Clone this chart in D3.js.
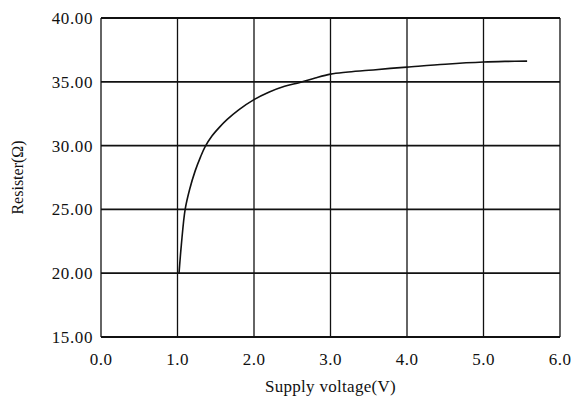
<!DOCTYPE html>
<html>
<head>
<meta charset="utf-8">
<script src="https://cdn.jsdelivr.net/npm/d3@7"></script>
<style>
  body { margin: 0; background: #fff; }
  svg text { font-family: "Liberation Serif", "DejaVu Serif", serif; fill: #111; }
</style>
</head>
<body>
<svg id="chart-svg" width="576" height="399"></svg>
<script>
// supply voltage (V)
var voltage = [1.02, 1.05, 1.10, 1.16, 1.23, 1.30, 1.36, 1.45, 1.55, 1.65, 1.8, 2.0, 2.2, 2.4, 2.6, 2.8, 3.0, 3.2, 3.5, 3.78, 4.0, 4.5, 5.0, 5.3, 5.57];
// resistance (ohm)
var resist = [20.0, 22.2, 25.0, 26.6, 28.0, 29.1, 29.9, 30.75, 31.45, 32.05, 32.8, 33.6, 34.2, 34.65, 34.95, 35.3, 35.6, 35.75, 35.9, 36.05, 36.15, 36.38, 36.55, 36.6, 36.62];

var xTicks = [0, 1, 2, 3, 4, 5, 6];
var yTicks = [15, 20, 25, 30, 35, 40];

var svg = d3.select("#chart-svg");

var plotL = 101, plotR = 560, plotT = 18, plotB = 337;

var x = d3.scaleLinear().domain([0, 6]).range([plotL, plotR]);
var y = d3.scaleLinear().domain([15, 40]).range([plotB, plotT]);

var data = voltage.map((v, i) => ({v: v, r: resist[i]}));

// grid
svg.selectAll(".vgrid")
    .data(xTicks)
    .enter()
    .append("line")
    .attr("class", "vgrid")
    .attr("x1", d => x(d)).attr("x2", d => x(d))
    .attr("y1", plotT).attr("y2", plotB)
    .attr("stroke", "#111")
    .attr("stroke-width", 1.3);

svg.selectAll(".hgrid")
    .data(yTicks)
    .enter()
    .append("line")
    .attr("class", "hgrid")
    .attr("x1", plotL).attr("x2", plotR)
    .attr("y1", d => y(d)).attr("y2", d => y(d))
    .attr("stroke", "#111")
    .attr("stroke-width", 1.8);

// tick labels
svg.selectAll(".ylab")
    .data(yTicks)
    .enter()
    .append("text")
    .attr("class", "ylab")
    .attr("x", 93)
    .attr("y", d => y(d) + 6)
    .attr("text-anchor", "end")
    .style("font-size", "17px")
    .style("letter-spacing", "0.6px")
    .text(d => d.toFixed(2));

svg.selectAll(".xlab")
    .data(xTicks)
    .enter()
    .append("text")
    .attr("class", "xlab")
    .attr("x", d => x(d))
    .attr("y", 365)
    .attr("text-anchor", "middle")
    .style("font-size", "17px")
    .style("letter-spacing", "0.5px")
    .text(d => d.toFixed(1));

// axis titles
svg.append("text")
    .attr("x", (plotL + plotR) / 2)
    .attr("y", 392)
    .attr("text-anchor", "middle")
    .style("font-size", "17px")
    .style("letter-spacing", "0.3px")
    .text("Supply voltage(V)");

svg.append("text")
    .attr("transform", "translate(23," + ((plotT + plotB) / 2) + ") rotate(-90)")
    .attr("text-anchor", "middle")
    .style("font-size", "16px")
    .text("Resister(Ω)");

// curve
var line = d3.line()
    .x(d => x(d.v))
    .y(d => y(d.r))
    .curve(d3.curveCatmullRom.alpha(0.5));

svg.append("path")
    .datum(data)
    .attr("d", line)
    .attr("fill", "none")
    .attr("stroke", "#111")
    .attr("stroke-width", 1.6);
</script>
</body>
</html>
